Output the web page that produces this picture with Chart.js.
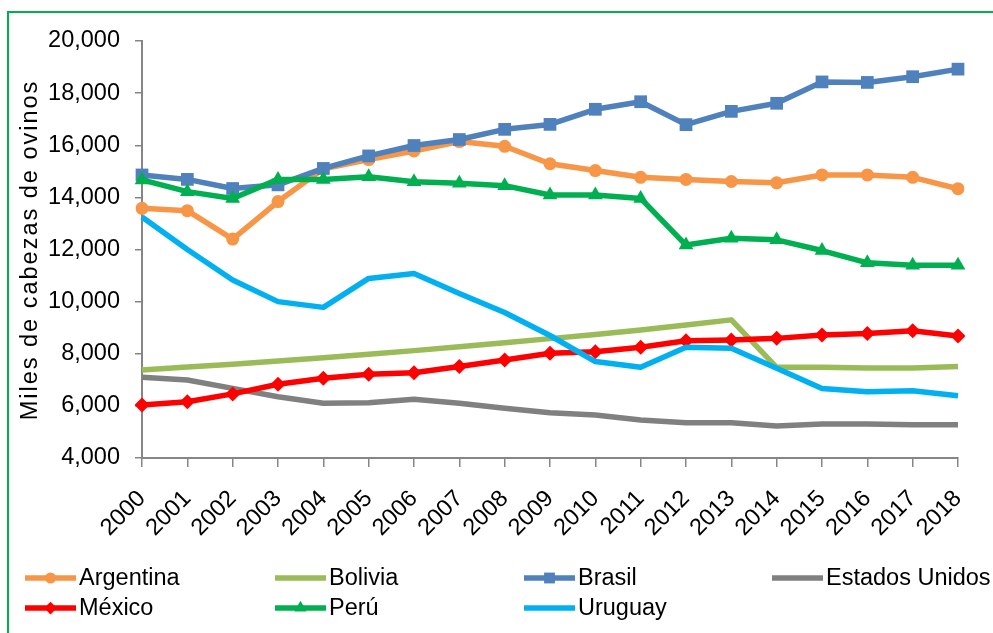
<!DOCTYPE html>
<html>
<head>
<meta charset="utf-8">
<script src="https://cdn.jsdelivr.net/npm/chart.js@4.4.0/dist/chart.umd.min.js"></script>
<style>
  html, body { margin: 0; padding: 0; background: #fff; overflow: hidden; }
  #wrap { position: absolute; left: 0; top: 0; width: 993px; height: 633px; }
  #frame { position: absolute; left: 7px; top: 11px; width: 1100px; height: 800px; border: 2px solid #00b050; box-sizing: border-box; }
  canvas { position: absolute; left: 0; top: 0; }
</style>
</head>
<body>
<div id="wrap">
  <div id="frame"></div>
  <canvas id="chart" width="993" height="633"></canvas>
</div>
<script>
var years = ['2000', '2001', '2002', '2003', '2004', '2005', '2006', '2007', '2008', '2009',
             '2010', '2011', '2012', '2013', '2014', '2015', '2016', '2017', '2018'];

var argentina = [13580, 13490, 12400, 13840, 15100, 15450, 15780, 16140, 15960, 15290,
                 15030, 14770, 14690, 14610, 14560, 14860, 14860, 14770, 14330];
var bolivia   = [7380, 7490, 7600, 7720, 7850, 7980, 8120, 8270, 8420, 8580,
                 8740, 8910, 9100, 9300, 7480, 7480, 7450, 7450, 7510];
var brasil    = [14860, 14690, 14340, 14480, 15110, 15590, 15990, 16220, 16610, 16800,
                 17380, 17670, 16790, 17300, 17610, 18430, 18410, 18630, 18920];
var eeuu      = [7100, 6990, 6670, 6350, 6100, 6120, 6250, 6100, 5910, 5740,
                 5650, 5460, 5350, 5350, 5230, 5300, 5300, 5280, 5280];
var mexico    = [6030, 6160, 6460, 6830, 7060, 7210, 7270, 7510, 7760, 8020,
                 8080, 8250, 8500, 8530, 8590, 8720, 8780, 8880, 8680];
var peru      = [14670, 14220, 13960, 14690, 14690, 14790, 14600, 14540, 14450, 14090,
                 14090, 13960, 12170, 12430, 12370, 11960, 11490, 11400, 11400];
var uruguay   = [13250, 12000, 10830, 10000, 9780, 10890, 11080, 10310, 9580, 8700,
                 7700, 7480, 8250, 8210, 7440, 6670, 6540, 6580, 6390];

var seriesNames = ['Argentina', 'Bolivia', 'Brasil', 'Estados Unidos', 'México', 'Perú', 'Uruguay'];
var seriesData = [argentina, bolivia, brasil, eeuu, mexico, peru, uruguay];
var seriesColors = ['#f79646', '#9bbb59', '#4f81bd', '#808080', '#ff0000', '#00b050', '#00b0f0'];
var seriesMarkers = ['circle', null, 'rect', null, 'rectRot', 'triangle', null];
var markerRadius = { circle: 6.5, rect: 9, rectRot: 7.5, triangle: 8.5 };

var yTitle = 'Miles de cabezas de ovinos';
var fontFamily = '"Liberation Sans", Arial, sans-serif';
var axisColor = '#868686';

/* hand-drawn marker, used for the legend samples */
function drawMarker(c, style, x, y, r, color) {
  c.save();
  c.fillStyle = color;
  c.beginPath();
  if (style === 'circle') {
    c.arc(x, y, r, 0, Math.PI * 2);
  } else if (style === 'rect') {
    var s = r * Math.SQRT1_2;
    c.rect(x - s, y - s, 2 * s, 2 * s);
  } else if (style === 'rectRot') {
    c.moveTo(x, y - r); c.lineTo(x + r, y); c.lineTo(x, y + r); c.lineTo(x - r, y);
  } else if (style === 'triangle') {
    c.moveTo(x, y - r);
    c.lineTo(x + r * Math.sin(Math.PI / 3), y + r / 2);
    c.lineTo(x - r * Math.sin(Math.PI / 3), y + r / 2);
  }
  c.closePath();
  c.fill();
  c.restore();
}

/* legend in two rows of four columns, plus the spaced-out y title */
var extrasPlugin = {
  id: 'extras',
  afterDraw: function(chart) {
    var c = chart.ctx;
    var colX = [25, 275, 524, 772];
    var rowY = [578, 608];
    c.save();
    c.font = '23.5px ' + fontFamily;
    c.textBaseline = 'middle';
    c.textAlign = 'left';
    for (var i = 0; i < seriesNames.length; i++) {
      var x0 = colX[i % 4];
      var y0 = rowY[Math.floor(i / 4)];
      c.strokeStyle = seriesColors[i];
      c.lineWidth = 5.5;
      c.lineCap = 'butt';
      c.beginPath();
      c.moveTo(x0, y0);
      c.lineTo(x0 + 51, y0);
      c.stroke();
      if (seriesMarkers[i]) {
        drawMarker(c, seriesMarkers[i], x0 + 25.5, y0, markerRadius[seriesMarkers[i]] * 0.85, seriesColors[i]);
      }
      c.fillStyle = '#000';
      c.fillText(seriesNames[i], x0 + 54, y0 + 1);
    }
    c.restore();

    c.save();
    c.translate(31, 250);
    c.rotate(-Math.PI / 2);
    c.font = '23.5px ' + fontFamily;
    if ('letterSpacing' in c) c.letterSpacing = '2px';
    c.textAlign = 'center';
    c.textBaseline = 'middle';
    c.fillStyle = '#000';
    c.fillText(yTitle, 0, 0);
    c.restore();
  }
};

var datasets = seriesData.map(function(vals, i) {
  var m = seriesMarkers[i];
  return {
    label: seriesNames[i],
    data: vals,
    borderColor: seriesColors[i],
    backgroundColor: seriesColors[i],
    borderWidth: 5.5,
    borderJoinStyle: 'round',
    tension: 0,
    pointStyle: m || 'circle',
    pointRadius: m ? markerRadius[m] : 0,
    pointHoverRadius: m ? markerRadius[m] : 0,
    pointBorderWidth: 0,
    pointBackgroundColor: seriesColors[i],
    order: seriesNames.length - i
  };
});

new Chart(document.getElementById('chart'), {
  type: 'line',
  data: { labels: years, datasets: datasets },
  options: {
    responsive: false,
    animation: false,
    layout: { padding: { top: 41, right: 35, bottom: 0, left: 0 } },
    plugins: {
      legend: { display: false },
      tooltip: { enabled: false }
    },
    scales: {
      x: {
        offset: false,
        afterFit: function(s) {
          s.height = 175;
          s.paddingRight = 0;
          s.paddingLeft = 0;
        },
        border: { color: axisColor, width: 2 },
        grid: { drawOnChartArea: false, drawTicks: true, tickLength: 9, color: axisColor, lineWidth: 1.5 },
        ticks: {
          autoSkip: false,
          maxRotation: 45,
          minRotation: 45,
          padding: 18,
          color: '#000',
          font: { size: 23.5, family: fontFamily }
        }
      },
      y: {
        min: 4000,
        max: 20000,
        afterFit: function(s) { s.width = 142; },
        border: { color: axisColor, width: 2 },
        grid: { drawOnChartArea: false, drawTicks: true, tickLength: 7, color: axisColor, lineWidth: 1.5 },
        ticks: {
          stepSize: 2000,
          padding: 15,
          color: '#000',
          font: { size: 23.5, family: fontFamily },
          callback: function(v) { return v.toLocaleString('en-US'); }
        }
      }
    }
  },
  plugins: [extrasPlugin]
});
</script>
</body>
</html>
